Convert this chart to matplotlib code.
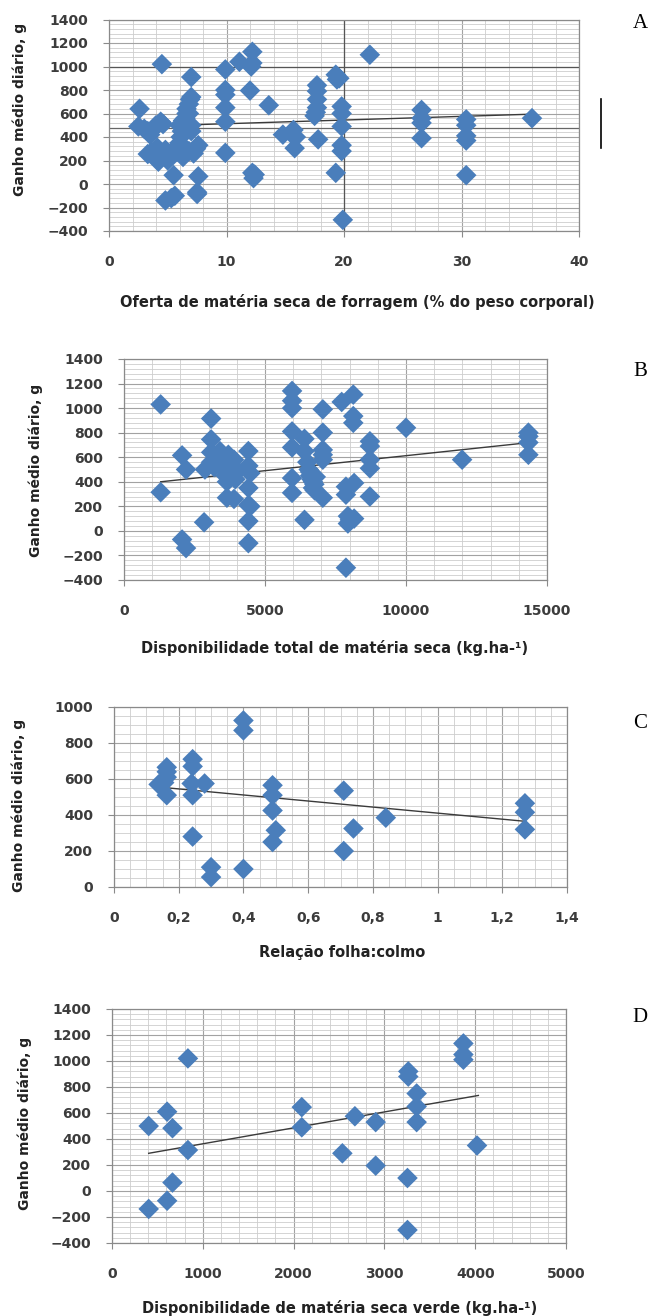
import numpy as np
import matplotlib
matplotlib.use("Agg")
import matplotlib.pyplot as plt
from matplotlib.ticker import MultipleLocator

plt.rcParams['font.family'] = ['DejaVu Sans']

# ---- data ----
# A: oferta de materia seca (% PC) x ganho medio diario (g)
a_x = [2.6, 2.5, 3.0, 3.3, 3.5, 3.8, 4.0, 4.4, 4.6, 4.5, 3.3, 3.6, 4.1, 4.2, 4.8, 5.0, 5.3, 5.5,
       4.8, 5.3, 5.6, 7.6, 7.5, 7.5, 7.0,
       5.8, 5.9, 6.0, 6.1, 6.2, 6.3, 6.4, 6.5, 6.5, 6.6, 6.6, 6.8, 6.8, 6.9, 7.0, 7.0, 7.0,
       6.8, 7.2, 7.4, 7.6, 6.3, 6.0, 5.7,
       9.9, 9.9, 9.9, 9.9, 9.9, 9.9,
       11.1, 12.2, 12.2, 12.1, 12.0, 12.2, 12.3, 12.4,
       13.6, 14.8, 15.7, 15.8, 15.9, 15.6,
       17.7, 17.7, 17.7, 17.7, 17.5, 17.6, 17.8,
       19.3, 19.4, 19.6, 19.3,
       19.8, 19.8, 19.8, 19.8, 19.8, 19.9,
       22.2,
       26.6, 26.6, 26.6, 26.6,
       30.4, 30.4, 30.4, 30.4, 30.4,
       36.0]
a_y = [640, 490, 470, 450, 420, 470, 500, 530, 510, 1020, 255, 270, 310, 190, 290, 200, 250, 75,
       -140, -120, -100, 65, -70, -85, 910,
       300, 330, 350, 400, 450, 230, 480, 520, 560, 600, 640, 600, 680, 720, 740, 500, 450,
       280, 260, 300, 330, 540, 500, 280,
       975, 800, 760, 650, 530, 265,
       1040, 1125, 1030, 1000, 795, 95, 50, 80,
       670, 420, 460, 305, 400, 420,
       840, 790, 720, 650, 580, 610, 380,
       930, 890, 900, 95,
       660, 600, 490, 330, 280, -305,
       1100,
       630, 560, 520, 390,
       550, 500, 410, 370, 75,
       560]
a_trend_x = [2.6, 36.2]
a_trend_y = [490, 595]

# B: disponibilidade total de MS (kg/ha)
b_x = [1300, 1300, 2060, 2200, 2060, 2200, 2840, 3090, 3090, 3090, 3090, 2870, 3200,
       3400, 3450, 3500, 3550, 3600, 3650, 3700, 3750, 3800, 3900, 3900, 3950, 4000,
       3650, 3900,
       4410, 4410, 4410, 4410, 4480, 4410, 4410, 4480,
       5960, 5960, 5960, 5960, 5960, 5960, 5960,
       6400, 6400, 6400,
       6500, 6550, 6600, 6650, 6700, 6750, 6800, 6600, 6700, 6760, 7050,
       7050, 7050, 7050, 7050, 7050,
       7720, 8130, 8130, 8130,
       7870, 7870, 7940, 8010, 7940, 8160, 8160,
       7870,
       8720, 8720, 8720, 8720, 8720,
       10000, 11990, 14340, 14340, 14340, 14340]
b_y = [1030, 315, 615, 500, -70, -140, 70, 915, 745, 640, 560, 500, 520,
       650, 600, 550, 500, 450, 400, 620, 560, 480, 580, 520, 420, 480,
       270, 260,
       650, 530, 350, 210, 200, 80, -100, 470,
       1140, 1060, 1000, 810, 680, 430, 310,
       750, 650, 90,
       560, 500, 450, 420, 400, 380, 440, 480, 350, 330, 270,
       990, 800, 660, 620, 580,
       1050, 1110, 935, 880,
       360, 295, 120, 90, 60, 100, 390,
       -300,
       730, 690, 580, 510, 280,
       840, 580, 800, 770, 720, 620]
b_trend_x = [1300, 14400]
b_trend_y = [400, 720]

# C: relacao folha:colmo
c_x = [0.138, 0.163, 0.163, 0.163, 0.155, 0.163,
       0.243, 0.243, 0.24, 0.243, 0.243, 0.28,
       0.30, 0.30, 0.40, 0.40, 0.40,
       0.49, 0.49, 0.49, 0.49, 0.50,
       0.71, 0.71, 0.74, 0.84,
       1.27, 1.27, 1.27]
c_y = [570, 665, 640, 610, 580, 510,
       710, 670, 575, 510, 280, 575,
       110, 55, 925, 870, 100,
       565, 510, 425, 250, 315,
       535, 200, 325, 385,
       465, 415, 320]
c_trend_x = [0.14, 1.27]
c_trend_y = [555, 365]

# D: disponibilidade de MS verde (kg/ha)
d_x = [404, 404, 607, 607, 666, 666, 836, 836,
       2090, 2090, 2537, 2675, 2904, 2904,
       3263, 3263, 3254, 3254, 3355, 3355, 3355,
       3870, 3870, 3870, 4020]
d_y = [500, -138, 610, -75, 483, 65, 1020, 315,
       645, 490, 290, 575, 530, 195,
       920, 880, 100, -300, 750, 650, 530,
       1135, 1050, 1010, 350]
d_trend_x = [404, 4035]
d_trend_y = [290, 735]

ylabel = "Ganho médio diário, g"
xlabels = ["Oferta de matéria seca de forragem (% do peso corporal)",
           "Disponibilidade total de matéria seca (kg.ha-¹)",
           "Relação folha:colmo",
           "Disponibilidade de matéria seca verde (kg.ha-¹)"]
letters = ["A", "B", "C", "D"]

W, H = 650, 1316
fig = plt.figure(figsize=(W / 100, H / 100), dpi=100)

def box(l, r, t, b):
    return [l / W, 1 - b / H, (r - l) / W, (b - t) / H]

blue = "#4a7ebb"

def panel(rect, xs, ys, tx, ty, xlim, xmaj, xmin, ylim, ymaj, ymin,
          xlabel, letter, ylab_x, ylab_y, xlab_x, xlab_y, letter_y, fmt=None):
    ax = fig.add_axes(box(*rect))
    ax.set_xlim(*xlim)
    ax.set_ylim(*ylim)
    ax.xaxis.set_major_locator(MultipleLocator(xmaj))
    ax.xaxis.set_minor_locator(MultipleLocator(xmin))
    ax.yaxis.set_major_locator(MultipleLocator(ymaj))
    ax.yaxis.set_minor_locator(MultipleLocator(ymin))
    ax.grid(which="minor", color="#cdcdcd", lw=0.6)
    ax.grid(which="major", color="#a2a2a2", lw=0.8)
    ax.set_axisbelow(True)
    for s in ax.spines.values():
        s.set_color("#8a8a8a")
        s.set_linewidth(0.9)
    ax.tick_params(which="minor", length=0)
    ax.tick_params(which="major", length=4, color="#8a8a8a",
                   labelsize=10, labelcolor="#3c3c3c", pad=13)
    ax.tick_params(axis="y", pad=11)
    for lab in ax.get_xticklabels() + ax.get_yticklabels():
        lab.set_fontweight("bold")
    if fmt:
        ax.xaxis.set_major_formatter(fmt)
    ax.plot(tx, ty, color="#3a3a3a", lw=1.0, zorder=2)
    ax.scatter(xs, ys, marker="D", s=110, color=blue, edgecolors="none", zorder=3)
    fig.text(ylab_x / W, 1 - ylab_y / H, ylabel, rotation=90,
             ha="center", va="center", fontsize=10, fontweight="bold", color="#222222")
    fig.text(xlab_x / W, 1 - xlab_y / H, xlabel,
             ha="center", va="center", fontsize=10.5, fontweight="bold", color="#222222")
    fig.text(640 / W, 1 - letter_y / H, letter, ha="center", va="center",
             fontsize=15, family=["Liberation Serif"])
    return ax

comma = matplotlib.ticker.FuncFormatter(lambda v, p: ("%g" % v).replace(".", ","))

axA = panel((109, 579, 19.5, 231), a_x, a_y, a_trend_x, a_trend_y, (0, 40), 10, 2,
            (-400, 1400), 200, 40, xlabels[0], "A", 20, 109, 357, 302, 23)
axA.axhline(1000, color="#555555", lw=0.9, zorder=1)
axA.axhline(476, color="#666666", lw=0.9, zorder=1)
axA.axvline(20, color="#555555", lw=0.9, zorder=1)
fig.add_artist(plt.Line2D([601 / W, 601 / W], [1 - 99 / H, 1 - 148 / H],
                          color="black", lw=1.2))

panel((124, 547, 359, 580), b_x, b_y, b_trend_x, b_trend_y, (0, 15000), 5000, 1000,
      (-400, 1400), 200, 40, xlabels[1], "B", 36, 470, 335, 648, 372)

panel((114, 567, 707, 887), c_x, c_y, c_trend_x, c_trend_y, (0, 1.4), 0.2, 0.05,
      (0, 1000), 200, 50, xlabels[2], "C", 19, 805, 342, 952, 723, fmt=comma)

panel((112, 566, 1009, 1243), d_x, d_y, d_trend_x, d_trend_y, (0, 5000), 1000, 200,
      (-400, 1400), 200, 40, xlabels[3], "D", 25, 1123, 340, 1308, 1017)

fig.savefig("out.png", dpi=100)
